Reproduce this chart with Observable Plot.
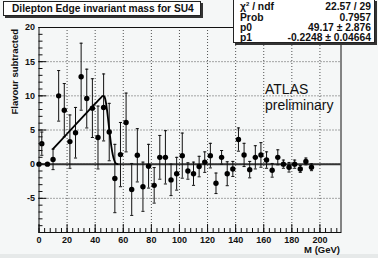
<!DOCTYPE html>
<html><head><meta charset="utf-8">
<script src="https://cdn.jsdelivr.net/npm/d3@7"></script>
<script src="https://cdn.jsdelivr.net/npm/@observablehq/plot@0.6"></script>
<style>
html,body{margin:0;padding:0;background:#f5f7f7;}
#wrap{position:relative;width:378px;height:258px;overflow:hidden;font-family:"Liberation Sans",Arial,sans-serif;background:#f5f7f7;color:#111;}
#strip{position:absolute;left:0;top:254px;width:378px;height:4px;background:#e6e9e9;}
#chart{position:absolute;left:0;top:0;}
.box{position:absolute;background:#fff;border:1px solid #222;box-shadow:2px 2px 0 #333;box-sizing:border-box;}
#title{left:3px;top:1px;width:198px;height:15px;font-weight:bold;font-size:10.2px;line-height:13px;padding-left:8px;white-space:nowrap;}
#stats{left:233px;top:-1px;width:142px;height:44px;font-weight:bold;font-size:10.3px;}
.row{position:absolute;left:6px;right:3px;height:10px;line-height:10px;white-space:nowrap;}
.row .k{position:absolute;left:0;}
.row .v{position:absolute;right:0;}
sup{font-size:6px;vertical-align:4px;line-height:0;}
#ytitle{position:absolute;left:0;top:0;width:200px;text-align:right;font-weight:bold;font-size:9.5px;line-height:11px;white-space:nowrap;transform-origin:0 0;transform:translate(9px,229px) rotate(-90deg);}
#xtitle{position:absolute;right:38px;top:244px;font-weight:bold;font-size:9.5px;line-height:11px;white-space:nowrap;}
#atlas{position:absolute;left:265px;top:81px;font-size:14px;line-height:16px;white-space:nowrap;}
</style></head>
<body>
<div id="wrap">
  <div id="strip"></div>
  <div id="chart"></div>
  <div id="title" class="box">Dilepton Edge invariant mass for SU4</div>
  <div id="stats" class="box">
    <div class="row" style="top:2px"><span class="k">χ<sup>2</sup> / ndf</span><span class="v">22.57 / 29</span></div>
    <div class="row" style="top:12.5px"><span class="k">Prob</span><span class="v">0.7957</span></div>
    <div class="row" style="top:23px"><span class="k">p0</span><span class="v">49.17 ± 2.876</span></div>
    <div class="row" style="top:33px"><span class="k">p1</span><span class="v">-0.2248 ± 0.04664</span></div>
  </div>
  <div id="ytitle">Flavour subtracted</div>
  <div id="xtitle">M (GeV)</div>
  <div id="atlas">ATLAS<br>preliminary</div>
</div>
<script>
// Bin centres (GeV), flavour-subtracted yields and their errors
const massGeV = [0, 2, 6, 10, 14, 18, 22, 26, 30, 34, 38, 42, 46, 50, 54, 58, 62, 66, 70, 74, 78, 82, 86, 90, 94, 98,
  102, 106, 110, 114, 118, 122, 126, 130, 134, 138, 142, 146, 150, 154, 158, 162, 166, 170, 174, 178, 182, 186, 190, 194];
const yields = [0, 3.0, 0, 0.7, 10.0, 7.9, 3.3, 4.6, 12.8, 9.6, 8.2, 3.9, 8.3, 4.7, -2.1, 1.4, 6.1, -3.7, 1.3, -3.3, -0.3, -3.1, 1.0, 1.0, -2.3, -1.4,
  1.25, -1.0, -1.4, -0.35, 0.3, 1.25, -2.8, 1.0, -1.4, -0.7, 3.6, 1.35, -0.8, 1.0, 1.35, 0.6, -0.9, 1.0, 0.0, -0.45, 0.0, -0.7, 0.4, -0.45];
const errors = [0, 1.7, 0, 1.5, 3.7, 3.9, 3.9, 3.7, 4.9, 4.3, 4.3, 4.6, 4.9, 4.2, 5.0, 4.7, 4.3, 3.8, 3.9, 3.6, 3.2, 2.6, 3.2, 3.9, 2.3, 2.4,
  3.3, 1.2, 1.7, 1.5, 1.5, 1.8, 1.5, 1.0, 1.75, 1.1, 1.7, 1.7, 1.2, 1.7, 1.8, 1.2, 1.0, 1.1, 0.6, 0.7, 0.6, 0.5, 0.5, 0.5];

// Fit curve
const fitMass  = [10, 20, 30, 40, 44, 45.5, 46.5, 47.5, 48.5, 49.5, 50.5, 51.5, 52.5, 53.5, 54.5, 56];
const fitValue = [2.25, 4.45, 6.65, 8.85, 9.7, 10.0, 9.9, 9.2, 7.8, 6.0, 4.2, 2.6, 1.4, 0.6, 0.15, 0];

// Axis ticks
const xMajor = [0, 20, 40, 60, 80, 100, 120, 140, 160, 180, 200];
const xMinor = d3.range(0, 215, 4);
const yMajor = [-10, -5, 0, 5, 10, 15, 20];
const yMinor = d3.range(-10, 21, 1);
const xGrid = [20, 40, 60, 80, 100, 120, 140, 160, 180, 200];
const yGrid = [-5, 0, 5, 10, 15];

const points = massGeV.map((m, i) => ({m, v: yields[i], e: errors[i]}));
const withErr = points.filter(d => d.e > 0);
const fit = fitMass.map((m, i) => ({m, v: fitValue[i]}));

const W = 378, H = 258, mL = 38.5, mR = 37.5, mT = 27, mB = 26;
const fw = W - mL - mR, fh = H - mT - mB;
const grid = {stroke: "#000", strokeDasharray: "1,2", strokeWidth: 0.9, strokeOpacity: 0.75};

const chart = Plot.plot({
  width: W, height: H,
  marginLeft: mL, marginRight: mR, marginTop: mT, marginBottom: mB,
  x: {domain: [0, 215], axis: null},
  y: {domain: [-10, 20], axis: null},
  style: {background: "transparent", fontFamily: "Liberation Sans, Arial, sans-serif", fontSize: "9px", fontWeight: "bold", color: "#111"},
  marks: [
    Plot.ruleX(xGrid, grid),
    Plot.ruleY(yGrid, grid),
    Plot.ruleY([0], {stroke: "#333", strokeWidth: 2}),
    Plot.ruleX(withErr, {x: "m", y1: d => d.v - d.e, y2: d => d.v + d.e, stroke: "#111", strokeWidth: 1}),
    Plot.link(withErr, {x1: d => d.m - 1.1, x2: d => d.m + 1.1, y1: d => d.v + d.e, y2: d => d.v + d.e, stroke: "#111", strokeWidth: 1}),
    Plot.link(withErr, {x1: d => d.m - 1.1, x2: d => d.m + 1.1, y1: d => d.v - d.e, y2: d => d.v - d.e, stroke: "#111", strokeWidth: 1}),
    Plot.line(fit, {x: "m", y: "v", stroke: "#000", strokeWidth: 1.8, curve: "monotone-x"}),
    Plot.dot(points, {x: "m", y: "v", r: 2.7, fill: "#000", stroke: "none"}),
    Plot.tickX(xMajor, {x: d => d, insetTop: fh - 8, stroke: "#111"}),
    Plot.tickX(xMinor, {x: d => d, insetTop: fh - 4, stroke: "#111"}),
    Plot.tickY(yMajor, {y: d => d, insetRight: fw - 8, stroke: "#111"}),
    Plot.tickY(yMinor, {y: d => d, insetRight: fw - 4, stroke: "#111"}),
    Plot.frame({stroke: "#111", strokeWidth: 1}),
    Plot.axisX(xMajor, {anchor: "bottom", tickSize: 0, tickPadding: 4, tickFormat: d => String(d), fontSize: 9, fontWeight: "bold", label: null}),
    Plot.axisY(yMajor.filter(d => d > -10), {anchor: "left", tickSize: 0, tickPadding: 4, tickFormat: d => String(d), fontSize: 9, fontWeight: "bold", label: null})
  ]
});
document.getElementById("chart").appendChild(chart);
</script>
</body></html>
